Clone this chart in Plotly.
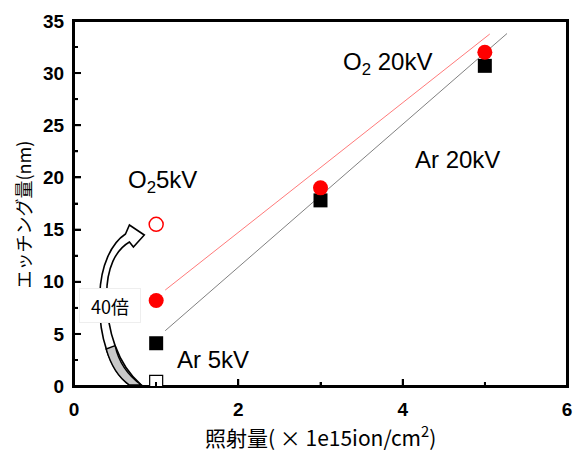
import plotly.graph_objects as go

# ---- data ----
dose = [1, 3, 5]                    # x 1e15 ion/cm2
ar_20kv = [4.1, 17.8, 30.7]         # nm
o2_20kv = [8.2, 19.0, 32.0]         # nm
dose_5kv = [1]
ar_5kv = [0.4]
o2_5kv = [15.5]
ar_fit_x = [1.11, 5.27]
ar_fit_y = [5.3, 33.8]
o2_fit_x = [1.11, 5.06]
o2_fit_y = [9.2, 33.75]
x_ticks = [0, 2, 4, 6]
x_minor = [1, 3, 5]
y_ticks = [0, 5, 10, 15, 20, 25, 30, 35]
y_minor = [2.5, 7.5, 12.5, 17.5, 22.5, 27.5, 32.5]

# ---- geometry helpers (pixel -> data for decorations) ----
L, R, T, B = 74, 572, 21, 386
W, H = 578, 452
XMAX, YMAX = 6, 35
PW, PH = R - L, B - T
MAJ, MIN = 7, 4


def d(xp, yp):
    return ((xp - L) / PW * XMAX, (B - yp) / PH * YMAX)


def path(cmds):
    out = []
    for c in cmds:
        op, pts = c[0], c[1:]
        coords = []
        for (xp, yp) in pts:
            x, y = d(xp, yp)
            coords.append(f"{x:.4f},{y:.4f}")
        out.append(op + " " + " ".join(coords) if coords else op)
    return " ".join(out)


TXT = "Liberation Sans, Arial, sans-serif"
CJK = "Noto Sans CJK JP, sans-serif"

fig = go.Figure()

# frame and inward ticks drawn as plain line traces
fx, fy = [0, XMAX, XMAX, 0, 0], [0, 0, YMAX, YMAX, 0]
fig.add_trace(go.Scatter(x=fx, y=fy, mode="lines", line=dict(color="black", width=2),
                         cliponaxis=False, hoverinfo="skip", showlegend=False))
tx, ty = [], []
for v in x_ticks + x_minor:
    ln = (MAJ if v in x_ticks else MIN) / PH * YMAX
    tx += [v, v, None]
    ty += [0, ln, None]
for v in y_ticks + y_minor:
    ln = (MAJ if v in y_ticks else MIN) / PW * XMAX
    tx += [0, ln, None]
    ty += [v, v, None]
fig.add_trace(go.Scatter(x=tx, y=ty, mode="lines", line=dict(color="black", width=1.8),
                         cliponaxis=False, hoverinfo="skip", showlegend=False))

fig.add_trace(go.Scatter(x=ar_fit_x, y=ar_fit_y, mode="lines",
                         line=dict(color="#808080", width=1), showlegend=False))
fig.add_trace(go.Scatter(x=o2_fit_x, y=o2_fit_y, mode="lines",
                         line=dict(color="#ff7a7a", width=1), showlegend=False))
fig.add_trace(go.Scatter(x=dose, y=ar_20kv, mode="markers",
                         marker=dict(symbol="square", size=14, color="black"),
                         showlegend=False))
fig.add_trace(go.Scatter(x=dose, y=o2_20kv, mode="markers",
                         marker=dict(symbol="circle", size=15, color="red"),
                         showlegend=False))
fig.add_trace(go.Scatter(x=dose_5kv, y=o2_5kv, mode="markers",
                         marker=dict(symbol="circle-open", size=14, color="red",
                                     line=dict(width=1.5)),
                         showlegend=False))
fig.add_trace(go.Scatter(x=dose_5kv, y=ar_5kv, mode="markers",
                         marker=dict(symbol="square", size=13, color="white",
                                     line=dict(color="black", width=1.2)),
                         showlegend=False))

# curved "40x" arrow
arrow = path([
    ("M", (130, 385)),
    ("C", (110, 370), (98, 335), (100, 295)),
    ("C", (101, 265), (112, 243), (126, 234)),
    ("L", (130, 225)),
    ("L", (145, 235)),
    ("L", (134, 247)),
    ("L", (130, 242)),
    ("C", (116, 250), (107, 268), (107, 295)),
    ("C", (107, 330), (118, 365), (142, 385)),
    ("Z",),
])
gray = path([
    ("M", (106.5, 349)),
    ("C", (112, 368), (121, 379), (130, 385)),
    ("L", (142, 385)),
    ("C", (128, 375), (119, 362), (115.5, 345.6)),
    ("Z",),
])
fig.add_shape(type="path", path=arrow, xref="x", yref="y",
              fillcolor="white", line=dict(color="black", width=1.6), layer="above")
fig.add_shape(type="path", path=gray, xref="x", yref="y",
              fillcolor="#c8c8c8", line=dict(color="black", width=1.4), layer="above")


def ann(text, xp, yp, size, family=TXT, **kw):
    fig.add_annotation(x=(xp - L) / PW, y=(B - yp) / PH, xref="paper", yref="paper",
                       xanchor="center", yanchor="middle",
                       text=text, showarrow=False,
                       font=dict(family=family, size=size, color="black"), **kw)


ann("O<sub>2</sub> 20kV", 391, 64, 24)
ann("Ar 20kV", 461, 159, 24)
ann("O<sub>2</sub>5kV", 163, 181, 24)
ann("Ar 5kV", 214, 359, 24)
ann("40倍", 110, 305, 18, family=CJK, bgcolor="white", bordercolor="#eeeeee",
    borderwidth=1, borderpad=0, width=60, height=33)
# axis titles
ann("照射量( × 1e15ion/cm<sup>2</sup>)", 323, 436, 21, family=CJK)
ann("エッチング量(nm)", 22, 215, 18, family=CJK, textangle=-90)

axis_common = dict(showline=True, linecolor="#000000", linewidth=2, mirror=True,
                   ticks="inside", ticklen=MAJ, tickwidth=2, tickcolor="#000000",
                   showgrid=False, zeroline=False,
                   tickfont=dict(family=TXT, size=19, color="black"))

fig.update_layout(
    width=W, height=H,
    margin=dict(l=L, r=W - R, t=T, b=H - B),
    plot_bgcolor="white", paper_bgcolor="white",
    xaxis=dict(range=[0, XMAX], tickmode="array", tickvals=x_ticks,
               ticktext=[f"<b>{v}</b>" for v in x_ticks], ticklabelstandoff=5,
               minor=dict(tickmode="array", tickvals=x_minor, ticks="inside",
                          ticklen=MIN, tickwidth=1.5, tickcolor="black"),
               **axis_common),
    yaxis=dict(range=[0, YMAX], tickmode="array", tickvals=y_ticks,
               ticktext=[f"<b>{v}</b>" for v in y_ticks], ticklabelstandoff=4,
               minor=dict(tickmode="array", tickvals=y_minor, ticks="inside",
                          ticklen=MIN, tickwidth=1.5, tickcolor="black"),
               **axis_common),
)

fig.write_html("out.html", config={"displayModeBar": False},
               post_script="document.body.style.margin='0px';")
